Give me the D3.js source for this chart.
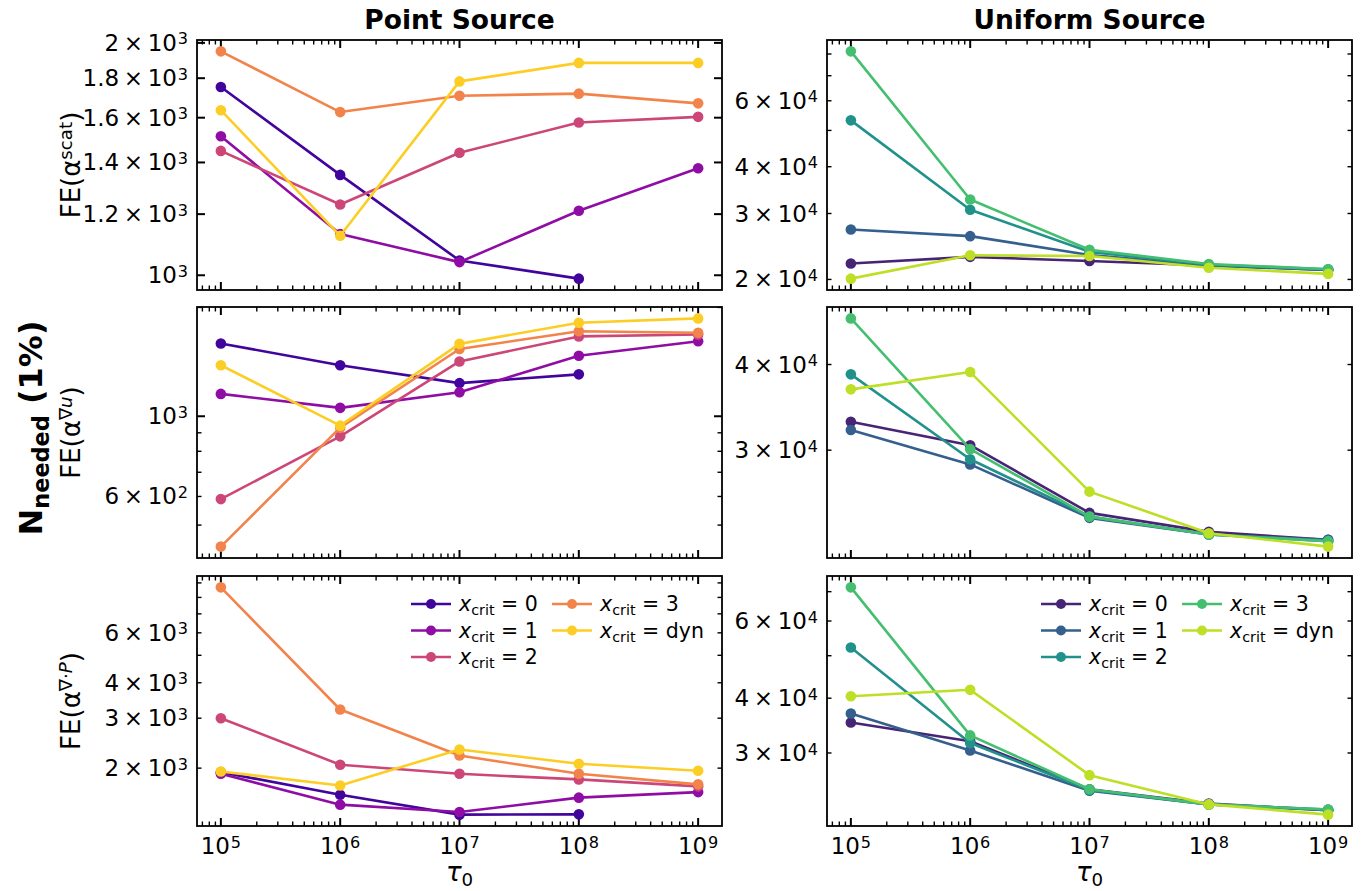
<!DOCTYPE html>
<html><head><meta charset="utf-8">
<script src="https://cdn.jsdelivr.net/npm/d3@7"></script>
<style>body{margin:0;background:#fff} text{font-family:"DejaVu Sans",sans-serif;fill:#000}</style>
</head><body><svg id="c" width="1366" height="891"></svg>
<script>
// ---------------- data ----------------
const taus = [1e5, 1e6, 1e7, 1e8, 1e9];
const critLabels = ["0", "1", "2", "3", "dyn"];
const colTitles = ["Point Source", "Uniform Source"];

// Point source, FE(a^scat): rows = x_crit 0,1,2,3,dyn
const pointScat = [
  [1753, 1349, 1045, 990, null],
  [1514, 1131, 1040, 1212, 1376],
  [1449, 1235, 1441, 1577, 1604],
  [1950, 1627, 1708, 1719, 1670],
  [1636, 1125, 1783, 1884, 1884]
];
const uniformScat = [
  [22060, 22980, 22400, 21800, 21200],
  [27200, 26100, 23250, 21800, 21200],
  [53200, 30700, 23700, 21900, 21300],
  [81300, 32700, 24000, 22000, 21300],
  [20100, 23200, 23100, 21500, 20700]
];
const pointGradU = [
  [1590, 1384, 1235, 1306, null],
  [1153, 1055, 1165, 1470, 1613],
  [590, 880, 1418, 1663, 1684],
  [436, 930, 1535, 1718, 1702],
  [1384, 942, 1586, 1814, 1865]
];
const uniformGradU = [
  [33000, 30500, 24300, 22800, 22200],
  [32100, 28600, 23900, 22600, 22200],
  [38700, 29100, 24000, 22600, 22100],
  [46700, 30100, 24000, 22600, 22100],
  [36800, 39000, 26100, 22700, 21700]
];
const pointGradP = [
  [1936, 1611, 1371, 1374, null],
  [1911, 1487, 1400, 1574, 1646],
  [3000, 2056, 1910, 1825, 1725],
  [8680, 3219, 2216, 1910, 1753],
  [1945, 1738, 2328, 2072, 1958]
];
const uniformGradP = [
  [35200, 31900, 24800, 23000, 22200],
  [36900, 30400, 24600, 22900, 22200],
  [52200, 31600, 24700, 22900, 22300],
  [71600, 32900, 24800, 22900, 22300],
  [40400, 41800, 26700, 22900, 21700]
];

// y tick labels per panel
const pointScatTicks = [1000, 1200, 1400, 1600, 1800, 2000];   // linear ticks
const uniformScatLabels = [20000, 30000, 40000, 60000];
const pointGradULabels = [600, 1000];
const uniformGradULabels = [30000, 40000];
const pointGradPLabels = [2000, 3000, 4000, 6000];
const uniformGradPLabels = [30000, 40000, 60000];
const xTickLabels = [1e5, 1e6, 1e7, 1e8, 1e9];

// ---------------- layout ----------------
const svg = d3.select("#c");
const cols = [{x0: 197, x1: 722}, {x0: 827, x1: 1352}];
const rows = [{y0: 40, y1: 290}, {y0: 307, y1: 558}, {y0: 576, y1: 826}];
const colorsPoint = [0.1, 0.3, 0.5, 0.7, 0.9].map(t => d3.interpolatePlasma(t));
const colorsUni = [0.1, 0.3, 0.5, 0.7, 0.9].map(t => d3.interpolateViridis(t));

// ylabel superscript pieces: [text, italic]
const panels = [
  {r: 0, c: 0, data: pointScat, linear: pointScatTicks, ylab: [["scat", false]]},
  {r: 0, c: 1, data: uniformScat, labels: uniformScatLabels},
  {r: 1, c: 0, data: pointGradU, labels: pointGradULabels, ylab: [["∇", false], ["u", true]]},
  {r: 1, c: 1, data: uniformGradU, labels: uniformGradULabels},
  {r: 2, c: 0, data: pointGradP, labels: pointGradPLabels, ylab: [["∇·", false], ["P", true]], legend: true},
  {r: 2, c: 1, data: uniformGradP, labels: uniformGradPLabels, legend: true}
];

const TICK_FS = 23, MAJ = 8, MIN = 4.5;

function logDomain(series) {
  const vals = series.flat().filter(v => v != null);
  const lo = Math.log10(d3.min(vals)), hi = Math.log10(d3.max(vals));
  const m = (hi - lo) * 0.05;
  return [10 ** (lo - m), 10 ** (hi + m)];
}
function logTicks(dom) {
  const out = [];
  for (let e = Math.floor(Math.log10(dom[0])); e <= Math.ceil(Math.log10(dom[1])); e++)
    for (let k = 1; k <= 9; k++) {
      const v = k * 10 ** e;
      if (v >= dom[0] && v <= dom[1]) out.push({v, major: k === 1});
    }
  return out;
}
function sci(textSel, v) {
  const e = Math.floor(Math.log10(v) + 1e-9);
  const m = Math.round(v / 10 ** e * 10) / 10;
  if (m !== 1) {
    textSel.append("tspan").text(Number.isInteger(m) ? m : m.toFixed(1));
    textSel.append("tspan").attr("dx", "0.2em").text("×");
    textSel.append("tspan").attr("dx", "0.2em").text("10");
  } else textSel.append("tspan").text("10");
  textSel.append("tspan").attr("dx", "0.05em").attr("dy", "-0.4em").attr("font-size", "0.7em").text(e);
}

panels.forEach(p => {
  const C = cols[p.c], R = rows[p.r];
  const g = svg.append("g");
  const x = d3.scaleLog().domain([10 ** 4.8, 10 ** 9.2]).range([C.x0, C.x1]);
  const y = d3.scaleLog().domain(logDomain(p.data)).range([R.y1, R.y0]);
  const colors = p.c === 0 ? colorsPoint : colorsUni;

  // x ticks (top & bottom)
  const xt = logTicks(x.domain());
  xt.forEach(t => {
    const X = x(t.v), L = t.major ? MAJ : MIN, w = t.major ? 2 : 1.4;
    g.append("line").attr("x1", X).attr("x2", X).attr("y1", R.y1).attr("y2", R.y1 - L).attr("stroke", "#000").attr("stroke-width", w);
    g.append("line").attr("x1", X).attr("x2", X).attr("y1", R.y0).attr("y2", R.y0 + L).attr("stroke", "#000").attr("stroke-width", w);
  });
  if (p.r === 2) {
    xTickLabels.forEach(v => {
      const t = g.append("text").attr("x", x(v)).attr("y", 854).attr("text-anchor", "middle").attr("font-size", TICK_FS);
      sci(t, v);
    });
    const xl = g.append("text").attr("x", (C.x0 + C.x1) / 2).attr("y", 881).attr("text-anchor", "middle").attr("font-size", 26);
    xl.append("tspan").attr("font-style", "italic").text("τ");
    xl.append("tspan").attr("dy", "0.3em").attr("font-size", "0.7em").text("0");
  }

  // y ticks
  let yt, labelVals;
  if (p.linear) { yt = p.linear.map(v => ({v, major: true})); labelVals = p.linear; }
  else { yt = logTicks(y.domain()); labelVals = p.labels; }
  yt.forEach(t => {
    const Y = y(t.v), L = t.major ? MAJ : MIN, w = t.major ? 2 : 1.4;
    g.append("line").attr("x1", C.x0).attr("x2", C.x0 + L).attr("y1", Y).attr("y2", Y).attr("stroke", "#000").attr("stroke-width", w);
    g.append("line").attr("x1", C.x1).attr("x2", C.x1 - L).attr("y1", Y).attr("y2", Y).attr("stroke", "#000").attr("stroke-width", w);
  });
  labelVals.forEach(v => {
    const t = g.append("text").attr("x", C.x0 - 9).attr("y", y(v) + 8).attr("text-anchor", "end").attr("font-size", TICK_FS);
    sci(t, v);
  });

  // y axis label
  if (p.ylab) {
    const cy = (R.y0 + R.y1) / 2;
    const t = g.append("text").attr("transform", `translate(80,${cy}) rotate(-90)`).attr("text-anchor", "middle").attr("font-size", 26);
    t.append("tspan").text("FE(α");
    p.ylab.forEach((pc, k) => {
      const s = t.append("tspan").attr("font-size", "0.7em").text(pc[0]);
      if (k === 0) s.attr("dy", "-0.45em");
      if (pc[1]) s.attr("font-style", "italic");
    });
    t.append("tspan").attr("dy", "0.315em").text(")");
  }

  // series
  const line = d3.line().defined(d => d.v != null).x(d => x(d.t)).y(d => y(d.v));
  p.data.forEach((s, i) => {
    const pts = s.map((v, j) => ({t: taus[j], v}));
    g.append("path").datum(pts).attr("d", line).attr("fill", "none").attr("stroke", colors[i]).attr("stroke-width", 2.6).attr("stroke-linejoin", "round");
    g.selectAll(null).data(pts.filter(d => d.v != null)).enter().append("circle")
      .attr("cx", d => x(d.t)).attr("cy", d => y(d.v)).attr("r", 5.3).attr("fill", colors[i]);
  });

  // legend
  if (p.legend) {
    const pos = [[0, 0], [0, 1], [0, 2], [1, 0], [1, 1]];
    critLabels.forEach((lab, i) => {
      const lx = C.x0 + 214 + pos[i][0] * 141, ly = 604 + pos[i][1] * 26.5;
      g.append("line").attr("x1", lx).attr("x2", lx + 40).attr("y1", ly).attr("y2", ly).attr("stroke", colors[i]).attr("stroke-width", 2.6);
      g.append("circle").attr("cx", lx + 20).attr("cy", ly).attr("r", 5).attr("fill", colors[i]);
      const t = g.append("text").attr("x", lx + 48).attr("y", ly + 7).attr("font-size", 20.5);
      t.append("tspan").attr("font-style", "italic").text("x");
      t.append("tspan").attr("dy", "0.3em").attr("font-size", "0.7em").text("crit");
      t.append("tspan").attr("dy", "-0.21em").text(" = " + lab);
    });
  }

  // frame
  g.append("rect").attr("x", C.x0).attr("y", R.y0).attr("width", C.x1 - C.x0).attr("height", R.y1 - R.y0)
    .attr("fill", "none").attr("stroke", "#000").attr("stroke-width", 1.8);
});

// column titles
colTitles.forEach((tt, i) => {
  svg.append("text").attr("x", (cols[i].x0 + cols[i].x1) / 2).attr("y", 29).attr("text-anchor", "middle")
    .attr("font-size", 26.5).attr("font-weight", "bold").text(tt);
});

// big y label
const big = svg.append("text").attr("transform", "translate(42,428) rotate(-90)").attr("text-anchor", "middle")
  .attr("font-size", 32).attr("font-weight", "bold");
big.append("tspan").text("N");
big.append("tspan").attr("dy", "0.3em").attr("font-size", "0.7em").text("needed");
big.append("tspan").attr("dy", "-0.21em").text(" (1%)");
</script>
</body></html>
